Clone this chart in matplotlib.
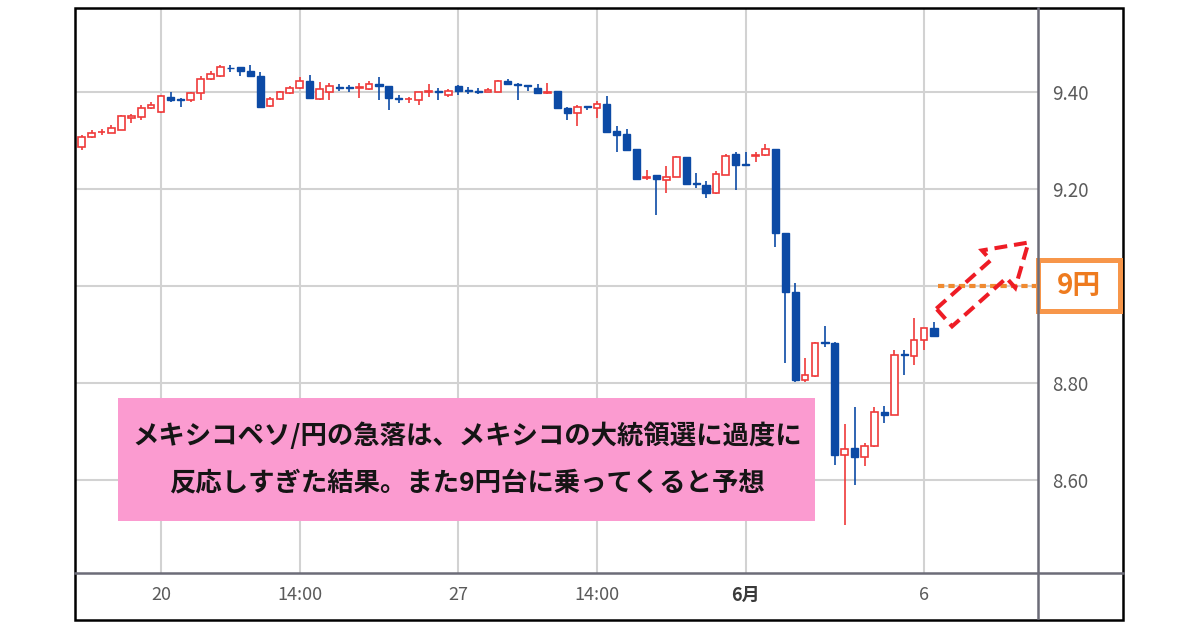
import numpy as np
import matplotlib
matplotlib.use('Agg')
import matplotlib.pyplot as plt
from matplotlib.patches import Rectangle, Polygon
from matplotlib.lines import Line2D

plt.rcParams['font.family'] = ['Noto Sans CJK JP', 'DejaVu Sans']

# ---- data (4-hour candles, MXN/JPY) ----
opens = [9.287, 9.307, 9.317, 9.316, 9.322, 9.347, 9.349, 9.366, 9.358, 9.390,
         9.385, 9.384, 9.397, 9.426, 9.433, 9.450, 9.451, 9.444, 9.433, 9.371,
         9.385, 9.397, 9.408, 9.423, 9.385, 9.401, 9.410, 9.409, 9.408, 9.406,
         9.417, 9.412, 9.388, 9.385, 9.384, 9.401, 9.402, 9.394, 9.412, 9.404,
         9.402, 9.401, 9.401, 9.423, 9.417, 9.414, 9.408, 9.397, 9.402, 9.368,
         9.356, 9.371, 9.368, 9.375, 9.320, 9.313, 9.282, 9.223, 9.228, 9.219,
         9.225, 9.265, 9.213, 9.208, 9.191, 9.229, 9.272, 9.251, 9.268, 9.270,
         9.282, 9.110, 8.988, 8.806, 8.815, 8.885, 8.883, 8.652, 8.665, 8.648,
         8.670, 8.741, 8.734, 8.860, 8.855, 8.889, 8.913]
highs = [9.311, 9.322, 9.324, 9.332, 9.352, 9.354, 9.373, 9.379, 9.394, 9.399,
         9.388, 9.401, 9.433, 9.444, 9.456, 9.456, 9.452, 9.456, 9.442, 9.390,
         9.403, 9.412, 9.430, 9.435, 9.421, 9.418, 9.417, 9.415, 9.418, 9.423,
         9.430, 9.413, 9.394, 9.390, 9.401, 9.417, 9.408, 9.406, 9.414, 9.410,
         9.408, 9.409, 9.424, 9.427, 9.418, 9.415, 9.417, 9.419, 9.403, 9.370,
         9.373, 9.372, 9.382, 9.392, 9.330, 9.323, 9.282, 9.239, 9.229, 9.247,
         9.268, 9.267, 9.234, 9.217, 9.238, 9.272, 9.277, 9.277, 9.277, 9.292,
         9.283, 9.110, 9.007, 8.852, 8.884, 8.918, 8.884, 8.716, 8.750, 8.676,
         8.751, 8.753, 8.868, 8.868, 8.933, 8.913, 8.925]
lows = [9.280, 9.306, 9.311, 9.315, 9.321, 9.337, 9.342, 9.365, 9.356, 9.380,
        9.370, 9.380, 9.384, 9.425, 9.430, 9.442, 9.433, 9.432, 9.369, 9.369,
        9.383, 9.396, 9.406, 9.386, 9.384, 9.384, 9.403, 9.401, 9.387, 9.404,
        9.384, 9.363, 9.377, 9.378, 9.373, 9.390, 9.384, 9.390, 9.394, 9.396,
        9.396, 9.400, 9.400, 9.416, 9.384, 9.403, 9.397, 9.396, 9.365, 9.342,
        9.329, 9.363, 9.346, 9.317, 9.277, 9.279, 9.219, 9.219, 9.146, 9.191,
        9.224, 9.208, 9.203, 9.181, 9.190, 9.228, 9.198, 9.248, 9.256, 9.269,
        9.081, 8.841, 8.803, 8.803, 8.812, 8.875, 8.631, 8.508, 8.590, 8.628,
        8.669, 8.717, 8.734, 8.817, 8.837, 8.868, 8.895]
closes = [9.307, 9.315, 9.318, 9.325, 9.350, 9.350, 9.368, 9.373, 9.392, 9.384,
          9.384, 9.397, 9.426, 9.437, 9.451, 9.449, 9.444, 9.433, 9.370, 9.385,
          9.399, 9.409, 9.423, 9.387, 9.406, 9.412, 9.409, 9.408, 9.409, 9.417,
          9.412, 9.387, 9.386, 9.386, 9.399, 9.403, 9.400, 9.403, 9.403, 9.403,
          9.401, 9.404, 9.423, 9.417, 9.415, 9.412, 9.397, 9.401, 9.366, 9.356,
          9.370, 9.370, 9.375, 9.318, 9.311, 9.280, 9.221, 9.225, 9.220, 9.225,
          9.265, 9.210, 9.211, 9.191, 9.230, 9.268, 9.249, 9.249, 9.270, 9.282,
          9.109, 8.988, 8.806, 8.816, 8.883, 8.882, 8.652, 8.663, 8.648, 8.670,
          8.741, 8.734, 8.858, 8.857, 8.889, 8.913, 8.896]

x_tick_pos = [8, 22, 38, 52, 67, 85]
x_tick_labels = ['20', '14:00', '27', '14:00', '6月', '6']
y_ticks = [8.60, 8.80, 9.00, 9.20, 9.40]
y_tick_labels = ['8.60', '8.80', '', '9.20', '9.40']   # 9.00 is hidden by the 9円 box
target_price = 9.00
target_label = '9円'
note_lines = ['メキシコペソ/円の急落は、メキシコの大統領選に過度に',
              '反応しすぎた結果。また9円台に乗ってくると予想']

UP = '#ef3a3a'
DOWN = '#0c4aa5'

fig = plt.figure(figsize=(12, 6.3), dpi=100)
ax = fig.add_axes([75/1200, 57/630, (1038-75)/1200, (573-8)/630])

o = np.array(opens); h = np.array(highs); l = np.array(lows); c = np.array(closes)
x = np.arange(len(o))
up = c >= o
col = np.where(up, UP, DOWN)

ax.vlines(x, l, h, colors=col, lw=1.2, zorder=2)
bottom = np.minimum(o, c)
height = np.maximum(np.abs(c - o), 0.0015)
ax.bar(x[up], height[up], bottom=bottom[up], width=0.68, facecolor='white',
       edgecolor=UP, linewidth=1.2, zorder=3)
ax.bar(x[~up], height[~up], bottom=bottom[~up], width=0.72, facecolor=DOWN,
       edgecolor=DOWN, linewidth=1.0, zorder=3)

ax.set_xlim(-0.676, 96.5)
ax.set_ylim(8.4082, 9.5732)
ax.set_xticks(x_tick_pos)
ax.set_xticklabels(x_tick_labels)
ax.set_yticks(y_ticks)
ax.set_yticklabels(y_tick_labels)
ax.yaxis.tick_right()
ax.tick_params(axis='y', length=0, pad=10, labelsize=13.5, labelcolor='#5a5a5a')
ax.tick_params(axis='x', length=0, pad=9, labelsize=13, labelcolor='#5a5a5a')
for lab in ax.get_xticklabels():
    if lab.get_text() == '6月':
        lab.set_fontweight('bold')
        lab.set_color('#3a3a3a')
ax.grid(True, color='#d2d2d2', lw=1.5, zorder=0)
ax.set_axisbelow(True)
for s in ax.spines.values():
    s.set_visible(False)

# target dotted line at 9.00
ax.hlines(target_price, 86.4, 96.5, colors='#f08a30', lw=3.0,
          linestyles=(0, (1.5, 1.0)), zorder=4, clip_on=False)

# ---- overlay in pixel coordinates ----
ov = fig.add_axes([0, 0, 1, 1], zorder=5)
ov.set_xlim(0, 1200)
ov.set_ylim(630, 0)
ov.axis('off')
ov.patch.set_alpha(0)

ov.add_line(Line2D([75, 1123], [573, 573], color='#6c6c78', lw=1.8))
ov.add_line(Line2D([1038, 1038], [8, 618], color='#6c6c78', lw=1.8))
ov.add_patch(Rectangle((75, 8), 1048, 612, fill=False, ec='black', lw=1.8))

ov.add_patch(Rectangle((118, 398), 697, 123, fc='#fb9bd0', ec='none'))
ov.text(467, 436, note_lines[0], ha='center', va='center', fontsize=19,
        fontweight='bold', color='#151515')
ov.text(467, 483, note_lines[1], ha='center', va='center', fontsize=19,
        fontweight='bold', color='#151515')

ov.add_patch(Rectangle((1037.5, 259.5), 82.5, 51, fc='white', ec='#f7964a', lw=3.6))
ov.text(1079, 286, target_label, ha='center', va='center', fontsize=20,
        fontweight='bold', color='#ee7b1f')

# hollow dashed arrow
T = np.array([944.2, 317.5])
P = np.array([1028.5, 242.5])
d = P - T
L = np.hypot(*d)
u = d / L
n = np.array([-u[1], u[0]])
w, hw, hl = 23.7, 50.0, 40.0
base = T + (L - hl) * u
pts = [T - w/2*n, base - w/2*n, base - hw/2*n, P, base + hw/2*n, base + w/2*n, T + w/2*n]
ov.add_patch(Polygon(pts, closed=True, fill=False, ec='#ee1c25', lw=2.9,
                     linestyle=(0, (3.2, 1.7)), joinstyle='miter'))

fig.savefig('out.png', dpi=100)
